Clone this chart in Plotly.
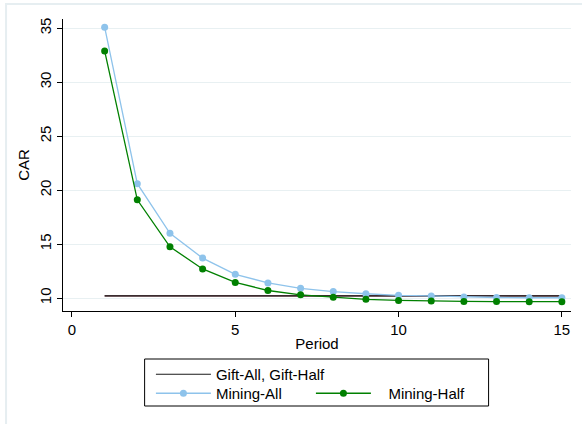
import plotly.graph_objects as go

periods = list(range(1, 16))
mining_all = [35.1, 20.6, 16.0, 13.7, 12.2, 11.4, 10.9, 10.6, 10.4, 10.25, 10.2, 10.1, 10.05, 10.03, 10.03]
mining_half = [32.9, 19.1, 14.75, 12.7, 11.45, 10.7, 10.3, 10.07, 9.88, 9.78, 9.72, 9.69, 9.67, 9.66, 9.66]
gift_all = [10.2] * 15
gift_half = [10.21] * 15

x_ticks = [0, 5, 10, 15]
y_ticks = [10, 15, 20, 25, 30, 35]

FONT = "Liberation Sans, Arial, sans-serif"
GRID = "#e8f0f2"

fig = go.Figure()
fig.add_trace(go.Scatter(x=periods, y=gift_half, mode="lines", line=dict(color="#7a3040", width=1.2),
                         showlegend=False, hoverinfo="skip"))
fig.add_trace(go.Scatter(x=periods, y=gift_all, mode="lines", line=dict(color="#1a1a1a", width=1.2),
                         name="Gift-All, Gift-Half", legend="legend"))
fig.add_trace(go.Scatter(x=periods, y=mining_all, mode="lines+markers",
                         line=dict(color="#8ec3eb", width=1.3), marker=dict(color="#8ec3eb", size=7),
                         name="Mining-All", legend="legend2"))
fig.add_trace(go.Scatter(x=periods, y=mining_half, mode="lines+markers",
                         line=dict(color="#008000", width=1.3), marker=dict(color="#008000", size=7),
                         name="\u00a0\u00a0\u00a0Mining-Half", legend="legend2"))

W, H = 582, 424
L, R, T, B = 63, 10.5, 19, 113
pw, ph = W - L - R, H - T - B

def px(x):
    return (x - L) / pw

def py(y):
    return (H - B - y) / ph

fig.update_layout(
    width=W, height=H,
    margin=dict(l=L, r=R, t=T, b=B),
    paper_bgcolor="white", plot_bgcolor="white",
    font=dict(family=FONT, size=15, color="black"),
    xaxis=dict(range=[-0.275, 15.28], tickvals=x_ticks, showgrid=False, zeroline=False,
               showline=True, linecolor="black", linewidth=1, ticks="outside", ticklen=5,
               tickcolor="black", title=dict(text="Period", standoff=1, font=dict(size=15)),
               tickfont=dict(size=15)),
    yaxis=dict(range=[8.8, 35.86], tickvals=y_ticks, showgrid=True, gridcolor=GRID, gridwidth=1,
               zeroline=False, showline=True, linecolor="black", linewidth=1, ticks="outside",
               ticklen=5, tickcolor="black", tickangle=-90, title=dict(text="CAR", standoff=3, font=dict(size=15)),
               tickfont=dict(size=15)),
    legend=dict(x=px(151), y=py(358), xanchor="left", yanchor="top", orientation="v",
                itemwidth=55, bgcolor="rgba(0,0,0,0)", font=dict(size=15), itemclick=False),
    legend2=dict(x=px(151), y=py(377), xanchor="left", yanchor="top", orientation="h",
                 itemwidth=55, entrywidth=90, bgcolor="rgba(0,0,0,0)", font=dict(size=15), itemclick=False),
    shapes=[
        dict(type="rect", xref="paper", yref="paper", x0=px(144.7), x1=px(489), y0=py(406), y1=py(359),
             line=dict(color="black", width=1)),
        dict(type="rect", xref="paper", yref="paper", x0=px(6), x1=px(600), y0=py(440), y1=py(4),
             line=dict(color="#e6eef1", width=2)),
    ],
)

fig.write_html("out.html", config={"displayModeBar": False},
               post_script="document.body.style.margin='0';")
